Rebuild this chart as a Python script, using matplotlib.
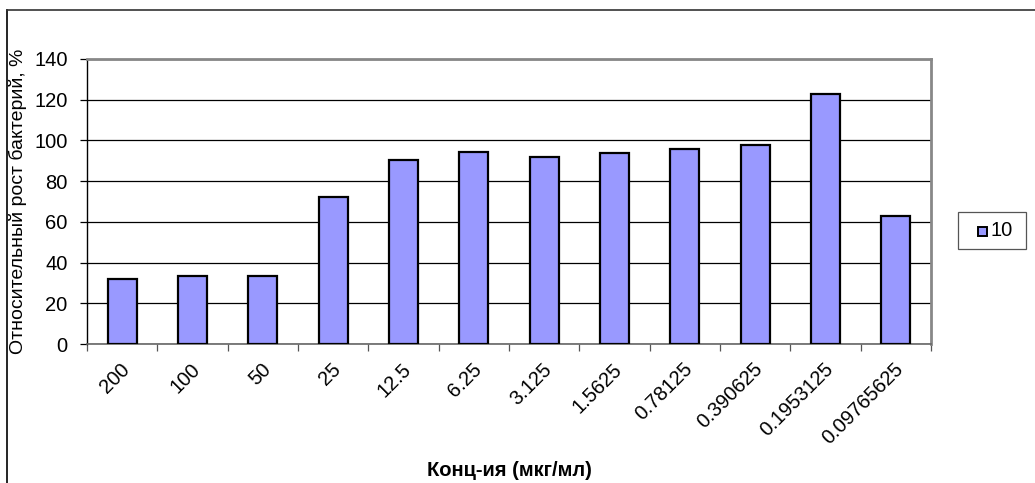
import matplotlib
matplotlib.use("Agg")
import matplotlib.pyplot as plt
import matplotlib.transforms as mtransforms
from matplotlib.patches import Rectangle
from matplotlib.lines import Line2D
import numpy as np

plt.rcParams['font.family'] = ['Liberation Sans', 'DejaVu Sans']

concentrations = ["200", "100", "50", "25", "12.5", "6.25", "3.125", "1.5625",
                  "0.78125", "0.390625", "0.1953125", "0.09765625"]
growth = [31.8, 33.2, 33.2, 72.2, 90.4, 94.1, 92.0, 93.7, 95.9, 97.6, 122.9, 62.9]
series_name = "10"
y_ticks = [0, 20, 40, 60, 80, 100, 120, 140]

W, H = 1035, 483
fig = plt.figure(figsize=(W / 100, H / 100), dpi=100)
ax = fig.add_axes([87 / W, 1 - 344 / H, (931 - 87) / W, (344 - 59) / H])

x = np.arange(len(concentrations))
ax.bar(x, growth, width=0.41, color="#9999FF", edgecolor="black",
       linewidth=1.6, zorder=3, label=series_name)

ax.set_xlim(-0.5, len(concentrations) - 0.5)
ax.set_ylim(0, 140)
ax.set_yticks(y_ticks)
ax.set_yticklabels([str(v) for v in y_ticks], fontsize=14.5)
ax.yaxis.grid(True, color="black", linewidth=0.9, zorder=0)
ax.set_axisbelow(True)
ax.tick_params(axis="y", direction="out", length=5, width=0.9, pad=9, colors="black")

# category labels at centres, tick marks on category boundaries
ax.set_xticks(x)
ax.set_xticklabels(concentrations, rotation=45, ha="right", va="center",
                   rotation_mode="anchor", fontsize=14.5)
ax.tick_params(axis="x", which="major", length=0, pad=16)
ax.set_xticks(np.arange(-0.5, len(concentrations)), minor=True)
ax.tick_params(axis="x", which="minor", direction="out", length=5, width=0.9,
               color="#555555")
shift = mtransforms.ScaledTranslation(5 / 100, 0, fig.dpi_scale_trans)
for lbl in ax.get_xticklabels():
    lbl.set_transform(lbl.get_transform() + shift)

ax.spines["left"].set_color("black")
ax.spines["left"].set_linewidth(1.0)
ax.spines["bottom"].set_color("#666666")
ax.spines["bottom"].set_linewidth(1.2)
for side in ("top", "right"):
    ax.spines[side].set_color("#888888")
    ax.spines[side].set_linewidth(2.0)

fig.text(18 / W, 1 - 201 / H, "Относительный рост бактерий, %", rotation=90,
         ha="center", va="center", fontsize=14)
fig.text(509 / W, 1 - 470 / H, "Конц-ия (мкг/мл)", ha="center", va="center",
         fontsize=14.5, fontweight="bold")

# legend box
fig.patches.append(Rectangle((958 / W, 1 - 249 / H), (1026 - 958) / W, (249 - 212) / H,
                             transform=fig.transFigure, facecolor="white",
                             edgecolor="#555555", linewidth=0.9))
fig.patches.append(Rectangle((978 / W, 1 - 236 / H), 9 / W, 9 / H,
                             transform=fig.transFigure, facecolor="#9999FF",
                             edgecolor="black", linewidth=1.4))
fig.text(991 / W, 1 - 231 / H, series_name, ha="left", va="center", fontsize=14.5)

# outer chart frame
fig.add_artist(Line2D([7 / W, 7 / W], [0, 1 - 10 / H], transform=fig.transFigure,
                      color="black", linewidth=1.2))
fig.add_artist(Line2D([7 / W, 1], [1 - 10 / H, 1 - 10 / H], transform=fig.transFigure,
                      color="#333333", linewidth=1.2))

fig.savefig("out.png", dpi=100)
